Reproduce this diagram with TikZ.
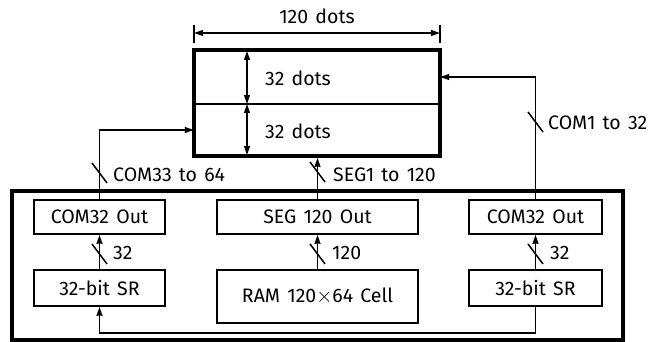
\documentclass[tikz,border=0pt]{standalone}
\usepackage{fontspec}
\setmainfont[WordSpace=1.4]{Fira Sans}
\usetikzlibrary{arrows.meta}
\begin{document}
\begin{tikzpicture}[x=1pt,y=-1pt,
  font=\fontsize{19.5}{22}\selectfont,
  thin line/.style={line width=1.5pt},
  arr/.style={thin line,-{Stealth[length=9pt,width=6pt,inset=0.5pt]}},
  darr/.style={thin line,{Stealth[length=9pt,width=6pt,inset=0.5pt]}-{Stealth[length=9pt,width=6pt,inset=0.5pt]}},
  box/.style={draw,line width=1.7pt,inner sep=0pt},
  thickbox/.style={draw,line width=3.8pt,inner sep=0pt},
  ghost/.style={inner sep=0pt},
  lbl/.style={anchor=west,inner sep=0pt},
  slash/.pic={\draw[thin line] (-7.5,-10) -- (7.5,10);}
]
\useasboundingbox (0,0) rectangle (653,342);
% display
\node[thickbox,minimum width=246pt,minimum height=106pt] (disp) at (317,103) {};
\node[ghost,minimum width=246pt,minimum height=54pt] (dispT) at (317,77) {};
\node[ghost,minimum width=246pt,minimum height=52pt] (dispB) at (317,130) {};
\draw[thin line] (disp.west |- 0,104) -- (disp.east |- 0,104);
\coordinate (vT) at (247,51);
\coordinate (vM) at (247,104);
\coordinate (vB) at (247,155);
\draw[darr] (vT) -- (vM);
\draw[darr] (vM) -- (vB);
\node[lbl] (t32a) at (265,78) {32 dots};
\node[lbl] (t32b) at (265,131) {32 dots};
% dimension
\coordinate (dimL) at (194,33);
\coordinate (dimR) at (440,33);
\draw[thin line] (194,25) -- (194,43);
\draw[thin line] (440,25) -- (440,43);
\draw[darr] (dimL) -- (dimR);
\node (t120) at (317,16) {120 dots};
% outer
\node[thickbox,minimum width=611pt,minimum height=149pt] (outer) at (317.5,265.5) {};
% boxes
\node[box,minimum width=131pt,minimum height=34pt] (comL) at (99.5,217) {COM32 Out};
\node[box,minimum width=131pt,minimum height=36pt] (srL) at (99.5,288) {32-bit SR};
\node[box,minimum width=201pt,minimum height=34pt] (segO) at (317.5,217) {SEG 120 Out};
\node[box,minimum width=201pt,minimum height=53pt] (ram) at (317.5,296.5) {RAM 120$\times$64 Cell};
\node[box,minimum width=133pt,minimum height=34pt] (comR) at (535.5,217) {COM32 Out};
\node[box,minimum width=133pt,minimum height=36pt] (srR) at (535.5,288) {32-bit SR};
% connectors
\draw[arr] (comL.north) |- (dispB.west);
\draw[arr] (comR.north) |- (dispT.east);
\draw[arr] (segO.north) -- (segO.north |- disp.south);
\draw[arr] (srL.north) -- (comL.south);
\draw[arr] (ram.north) -- (segO.south);
\draw[arr] (srR.north) -- (comR.south);
\draw[arr] (srR.south) -- ++(0,26) -| (srL.south);
% slashes
\pic at (99.5,173) {slash};
\pic at (317.5,172) {slash};
\pic at (535.5,122) {slash};
\pic at (99.5,254) {slash};
\pic at (317.5,254) {slash};
\pic at (535.5,254) {slash};
% labels
\node[lbl] (lc33) at (113,175) {COM33 to 64};
\node[lbl] (lseg) at (333,175) {SEG1 to 120};
\node[lbl] (lc1) at (548,123) {COM1 to 32};
\node[lbl] (l32a) at (113,253) {32};
\node[lbl] (l120) at (332,253) {120};
\node[lbl] (l32b) at (550,253) {32};
\end{tikzpicture}
\end{document}
